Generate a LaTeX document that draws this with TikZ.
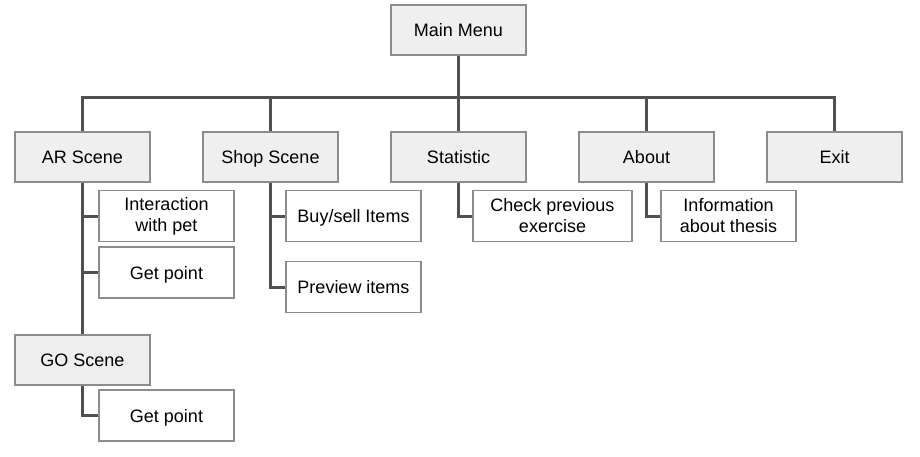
\documentclass[tikz,border=0pt]{standalone}
\usepackage{fontspec}
\setmainfont{Liberation Sans}
\usepackage{xcolor}
\usepackage{tikz}

\definecolor{boxgray}{HTML}{EFEFEF}
\definecolor{edgegray}{HTML}{8C8C8C}
\definecolor{linegray}{HTML}{505050}

\begin{document}
\begin{tikzpicture}[x=1pt,y=-1pt,
    box/.style={draw=edgegray,line width=1.2pt,minimum height=50pt,inner sep=2pt,font=\fontsize{18}{21}\selectfont,align=center},
    oneline/.style={text height=13pt,text depth=0pt},
    menu/.style={box,oneline,fill=boxgray,minimum width=135pt},
    item/.style={box,fill=white,minimum width=135pt,minimum height=51pt},
    link/.style={draw=linegray,line width=3pt}]
    \useasboundingbox (0,0) rectangle (920,456);
    \node[menu] (main) at (458.5,30) {Main Menu};
    \node[menu] (ar) at (82.5,157) {AR Scene};
    \node[menu] (shop) at (270.5,157) {Shop Scene};
    \node[menu] (stat) at (458.5,157) {Statistic};
    \node[menu] (about) at (646.5,157) {About};
    \node[menu] (exit) at (834.5,157) {Exit};
    \node[menu] (go) at (82.5,360) {GO Scene};
    % sub items
    \node[item] (inter) at (166.5,216) {Interaction\\with pet};
    \node[item,oneline] (point) at (166.5,272.5) {Get point};
    \node[item,oneline] (gopoint) at (166.5,415.5) {Get point};
    \node[item,oneline] (buy) at (353.5,216) {Buy/sell Items};
    \node[item,oneline] (prev) at (353.5,287) {Preview items};
    \node[item,minimum width=159pt] (check) at (552.5,216) {Check previous\\exercise};
    \node[item] (info) at (728.5,216) {Information\\about thesis};
    % connectors
    \coordinate (bus) at (458.5,97);
    \draw[link] (main.south) -- (bus);
    \draw[link] (ar.north) |- (bus) -| (exit.north);
    \foreach \n in {shop,stat,about}
      \draw[link] (\n.north) -- (\n.north |- bus);
    \draw[link] (ar.south) -- (go.north);
    \draw[link] (ar.south |- inter.west) -- (inter.west);
    \draw[link] (ar.south |- point.west) -- (point.west);
    \draw[link] (go.south) |- (gopoint.west);
    \draw[link] (shop.south) |- (prev.west);
    \draw[link] (shop.south |- buy.west) -- (buy.west);
    \draw[link] (stat.south) |- (check.west);
    \draw[link] (about.south) |- (info.west);
  \end{tikzpicture}
\end{document}
